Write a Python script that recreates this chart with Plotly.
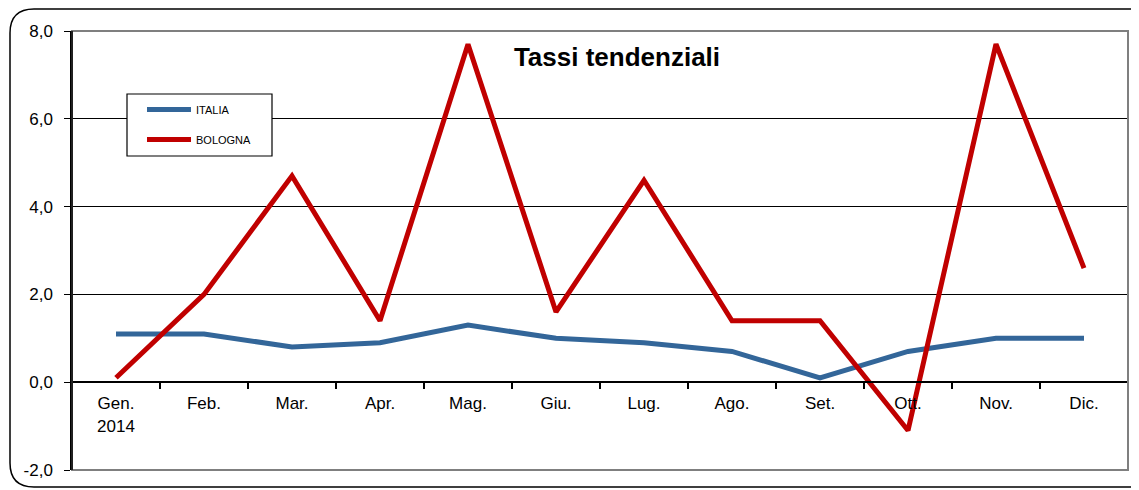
import plotly.graph_objects as go

months = ["Gen.<br>2014", "Feb.", "Mar.", "Apr.", "Mag.", "Giu.", "Lug.", "Ago.", "Set.", "Ott.", "Nov.", "Dic."]
italia = [1.1, 1.1, 0.8, 0.9, 1.3, 1.0, 0.9, 0.7, 0.1, 0.7, 1.0, 1.0]
bologna = [0.1, 2.0, 4.7, 1.4, 7.7, 1.6, 4.6, 1.4, 1.4, -1.1, 7.7, 2.6]
y_ticks = [-2, 0, 2, 4, 6, 8]
y_ticktext = ["-2,0", "0,0", "2,0", "4,0", "6,0", "8,0"]

O = 8  # page body margin offset
W, H = 1139 - O, 490 - O
L, R, T, B = 72 - O, 1128 - O, 31 - O, 470 - O

def px(x):
    return (x - O - L) / (R - L)

def py(y):
    return (B - (y - O)) / (B - T)

fig = go.Figure()
fig.add_trace(go.Scatter(x=months, y=italia, name="ITALIA", mode="lines",
                         line=dict(color="#336699", width=5), legendgroup="a"))
fig.add_trace(go.Scatter(x=months, y=bologna, name="BOLOGNA", mode="lines",
                         line=dict(color="#C00000", width=5), legendgroup="b"))

# outer rounded border (page coordinates)
r = 24
x0, x1, y0, y1 = 10, 1400, 9, 487
path = (f"M {px(x0+r)},{py(y0)} L {px(x1)},{py(y0)} L {px(x1)},{py(y1)} "
        f"L {px(x0+r)},{py(y1)} Q {px(x0)},{py(y1)} {px(x0)},{py(y1-r)} "
        f"L {px(x0)},{py(y0+r)} Q {px(x0)},{py(y0)} {px(x0+r)},{py(y0)} Z")
shapes = [
    dict(type="path", xref="paper", yref="paper", path=path,
         line=dict(color="black", width=1.5), layer="below"),
    dict(type="rect", xref="paper", yref="paper", x0=0, x1=1, y0=0, y1=1,
         line=dict(color="#7F7F7F", width=2), layer="above"),
    dict(type="line", xref="paper", yref="paper", x0=0, x1=0, y0=0, y1=1,
         line=dict(color="black", width=1.5), layer="above"),
    # legend box
    dict(type="rect", xref="paper", yref="paper", x0=px(127), x1=px(272),
         y0=py(156), y1=py(94), fillcolor="white",
         line=dict(color="black", width=1.2), layer="above"),
]

fig.update_layout(
    width=W, height=H,
    margin=dict(l=L, r=W - R, t=T, b=H - B, autoexpand=False),
    paper_bgcolor="white", plot_bgcolor="white",
    font=dict(family="Liberation Sans, Arial", size=16, color="black"),
    separators=",.",
    shapes=shapes,
    title=dict(text="<b>Tassi tendenziali</b>", xref="container", yref="container",
               x=(617 - O) / W, y=1 - (57 - O) / H, xanchor="center", yanchor="middle",
               font=dict(size=26, color="black")),
    showlegend=True,
    legend=dict(x=px(142), y=py(95), xanchor="left", yanchor="top",
                bgcolor="rgba(0,0,0,0)", borderwidth=0,
                font=dict(size=11), itemwidth=44, tracegroupgap=11,
                traceorder="grouped"),
    xaxis=dict(type="category", anchor="free", position=py(382),
               showline=True, linecolor="black", linewidth=2,
               ticks="outside", tickson="boundaries", ticklen=6, tickwidth=1.5,
               tickcolor="black", showgrid=False, range=[-0.5, 11.5],
               tickfont=dict(size=17), ticklabelstandoff=6),
    yaxis=dict(range=[-2, 8], tickvals=y_ticks, ticktext=y_ticktext,
               showgrid=True, gridcolor="black", gridwidth=1,
               ticks="outside", ticklen=6, tickcolor="black",
               showline=True, linecolor="black", linewidth=1.5,
               zeroline=False, tickfont=dict(size=17), ticklabelstandoff=8),
)

fig.write_html("out.html")
